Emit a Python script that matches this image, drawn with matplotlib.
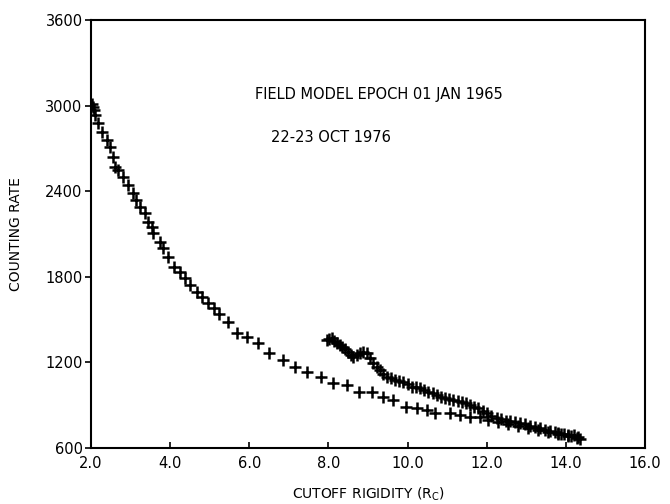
import matplotlib
matplotlib.use("Agg")
import matplotlib.pyplot as plt

# Outbound (lower) branch
x_low = [2.03, 2.06, 2.08, 2.10, 2.18, 2.27, 2.40, 2.48, 2.56, 2.61, 2.69, 2.82, 2.94,
         3.07, 3.15, 3.24, 3.36, 3.45, 3.53, 3.57, 3.74, 3.83, 3.95, 4.10, 4.25, 4.38,
         4.50, 4.67, 4.81, 4.96, 5.11, 5.23, 5.47, 5.70, 5.95, 6.23, 6.51, 6.84, 7.16,
         7.47, 7.80, 8.12, 8.46, 8.78, 9.09, 9.37, 9.64, 9.96, 10.23, 10.48, 10.69,
         11.07, 11.33, 11.58, 11.83, 12.03, 12.29, 12.54, 12.79, 13.04, 13.30, 13.55,
         13.80, 14.05, 14.31]
y_low = [3011, 2992, 2969, 2934, 2876, 2817, 2759, 2712, 2642, 2572, 2549, 2502, 2443,
         2385, 2338, 2291, 2245, 2186, 2151, 2105, 2046, 2000, 1941, 1871, 1836, 1790,
         1743, 1696, 1657, 1614, 1579, 1539, 1486, 1404, 1380, 1334, 1264, 1217, 1170,
         1135, 1100, 1054, 1042, 995, 995, 955, 936, 885, 878, 866, 843,
         847, 831, 819, 815, 796, 782, 768, 754, 740, 726, 712,
         698, 684, 677]

# Return (upper) branch
x_up = [7.96, 8.02, 8.08, 8.14, 8.21, 8.28, 8.34, 8.42, 8.50, 8.57, 8.63, 8.72, 8.80,
        8.88, 8.97, 9.05, 9.13, 9.22, 9.30, 9.38, 9.47, 9.58, 9.68, 9.79, 9.89, 10.00,
        10.10, 10.21, 10.31, 10.42, 10.52, 10.63, 10.74, 10.85, 10.95, 11.05, 11.16,
        11.27, 11.37, 11.48, 11.58, 11.69, 11.79, 11.90, 12.00, 12.12, 12.25, 12.36,
        12.48, 12.60, 12.72, 12.85, 12.97, 13.10, 13.22, 13.35, 13.48, 13.60, 13.73,
        13.80, 13.88, 13.95, 14.05, 14.12, 14.20, 14.28, 14.35]
y_up = [1357, 1362, 1369, 1350, 1334, 1322, 1310, 1292, 1275, 1255, 1240, 1255, 1264,
        1270, 1264, 1230, 1194, 1170, 1147, 1122, 1100, 1088, 1077, 1072, 1065, 1048,
        1030, 1025, 1018, 1005, 995, 983, 971, 960, 948, 942, 936, 930, 925, 912,
        901, 890, 878, 860, 843, 825, 808, 800, 792, 787, 782, 773, 765, 755, 747,
        738, 728, 720, 712, 705, 700, 695, 691, 685, 690, 672, 665]

x_ticks = [2, 4, 6, 8, 10, 12, 14, 16]
x_ticklabels = ["2.0", "4.0", "6.0", "8.0", "10.0", "12.0", "14.0", "16.0"]
y_ticks = [600, 1200, 1800, 2400, 3000, 3600]

fig = plt.figure(figsize=(6.7, 5.04), dpi=100)
ax = fig.add_axes([0.1358, 0.1111, 0.8269, 0.8492])

mk = dict(marker="+", linestyle="none", color="black", markersize=9, markeredgewidth=1.8)
ax.plot(x_low, y_low, **mk)
ax.plot(x_up, y_up, **mk)

ax.set_xlim(2, 16)
ax.set_ylim(600, 3600)
ax.set_xticks(x_ticks)
ax.set_xticklabels(x_ticklabels)
ax.set_yticks(y_ticks)
for s in ax.spines.values():
    s.set_linewidth(1.5)
ax.tick_params(axis="x", direction="in", length=4, width=1.2, labelsize=10.5, pad=6)
ax.tick_params(axis="y", direction="out", length=4, width=1.2, labelsize=10.5, pad=2)

ax.set_xlabel("CUTOFF RIGIDITY (R$_\\mathregular{C}$)", fontsize=10, labelpad=10)
ax.set_ylabel("COUNTING RATE", fontsize=10, labelpad=16)

ax.text(0.296, 0.825, "FIELD MODEL EPOCH 01 JAN 1965", transform=ax.transAxes,
        fontsize=10.5, ha="left", va="center")
ax.text(0.325, 0.725, "22-23 OCT 1976", transform=ax.transAxes,
        fontsize=10.5, ha="left", va="center")

fig.savefig("out.png", dpi=100)
